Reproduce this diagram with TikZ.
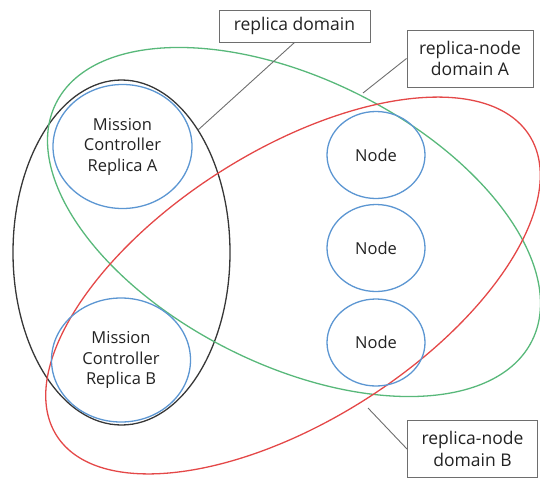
\documentclass[tikz,border=0pt]{standalone}
\usepackage{fontspec}
\setmainfont{Open Sans}
\usetikzlibrary{shapes.geometric}
\definecolor{gdom}{RGB}{88,184,122}
\definecolor{rdom}{RGB}{228,72,72}
\definecolor{bcirc}{RGB}{92,150,210}
\definecolor{kdom}{RGB}{55,55,55}
\definecolor{lead}{RGB}{110,110,110}
\definecolor{txt}{RGB}{35,35,35}
\tikzset{
  member/.style={draw=bcirc, line width=1.3pt, ellipse, inner sep=0pt, align=center,
    text=txt, font=\fontsize{16.5}{20.5}\selectfont},
  mc/.style={member, minimum width=139pt, minimum height=124pt},
  worker/.style={member, minimum width=98pt, minimum height=87pt},
  domline/.style={line width=1.3pt},
  labelbox/.style={draw=lead, line width=1pt, fill=white, align=center, text=txt,
    inner sep=0pt, font=\fontsize{17.5}{21.5}\selectfont},
  leader/.style={draw=lead, line width=0.9pt}
}
\begin{document}
\begin{tikzpicture}[x=1pt,y=-1pt]
\useasboundingbox (0,0) rectangle (540,477);
% domains
\draw[domline, draw=kdom] (121.5,252.5) ellipse [x radius=108.5, y radius=172.5];
\draw[domline, draw=gdom, rotate around={-26.5:(294,222)}] (294,222) ellipse [x radius=266, y radius=143];
\draw[domline, draw=rdom, rotate around={32.4:(293,285.5)}] (293,285.5) ellipse [x radius=280, y radius=135];
% members
\node[mc] (mca) at (122.5,146.5) {Mission\\Controller\\Replica A};
\node[mc] (mcb) at (121,360) {Mission\\Controller\\Replica B};
\node[worker] (n1) at (376,155) {Node};
\node[worker] (n2) at (376,248) {Node};
\node[worker] (n3) at (376,342.5) {Node};
% labels
\node[labelbox, minimum width=151pt, minimum height=32pt] (lrd) at (294.5,26) {replica domain};
\node[labelbox, minimum width=126pt, minimum height=57pt] (lra) at (470,58.5) {replica-node\\domain A};
\node[labelbox, minimum width=130pt, minimum height=57pt, anchor=north west] (lrb) at (407,420) {replica-node\\domain B};
% leader end points
\coordinate (erd) at (198,130);
\coordinate (era) at (363,93);
\coordinate (erb) at (368,408);
\draw[leader] (lrd.south) -- (erd);
\draw[leader] (lra.west) -- (era);
\draw[leader] (lrb.west) -- (erb);
\end{tikzpicture}
\end{document}
